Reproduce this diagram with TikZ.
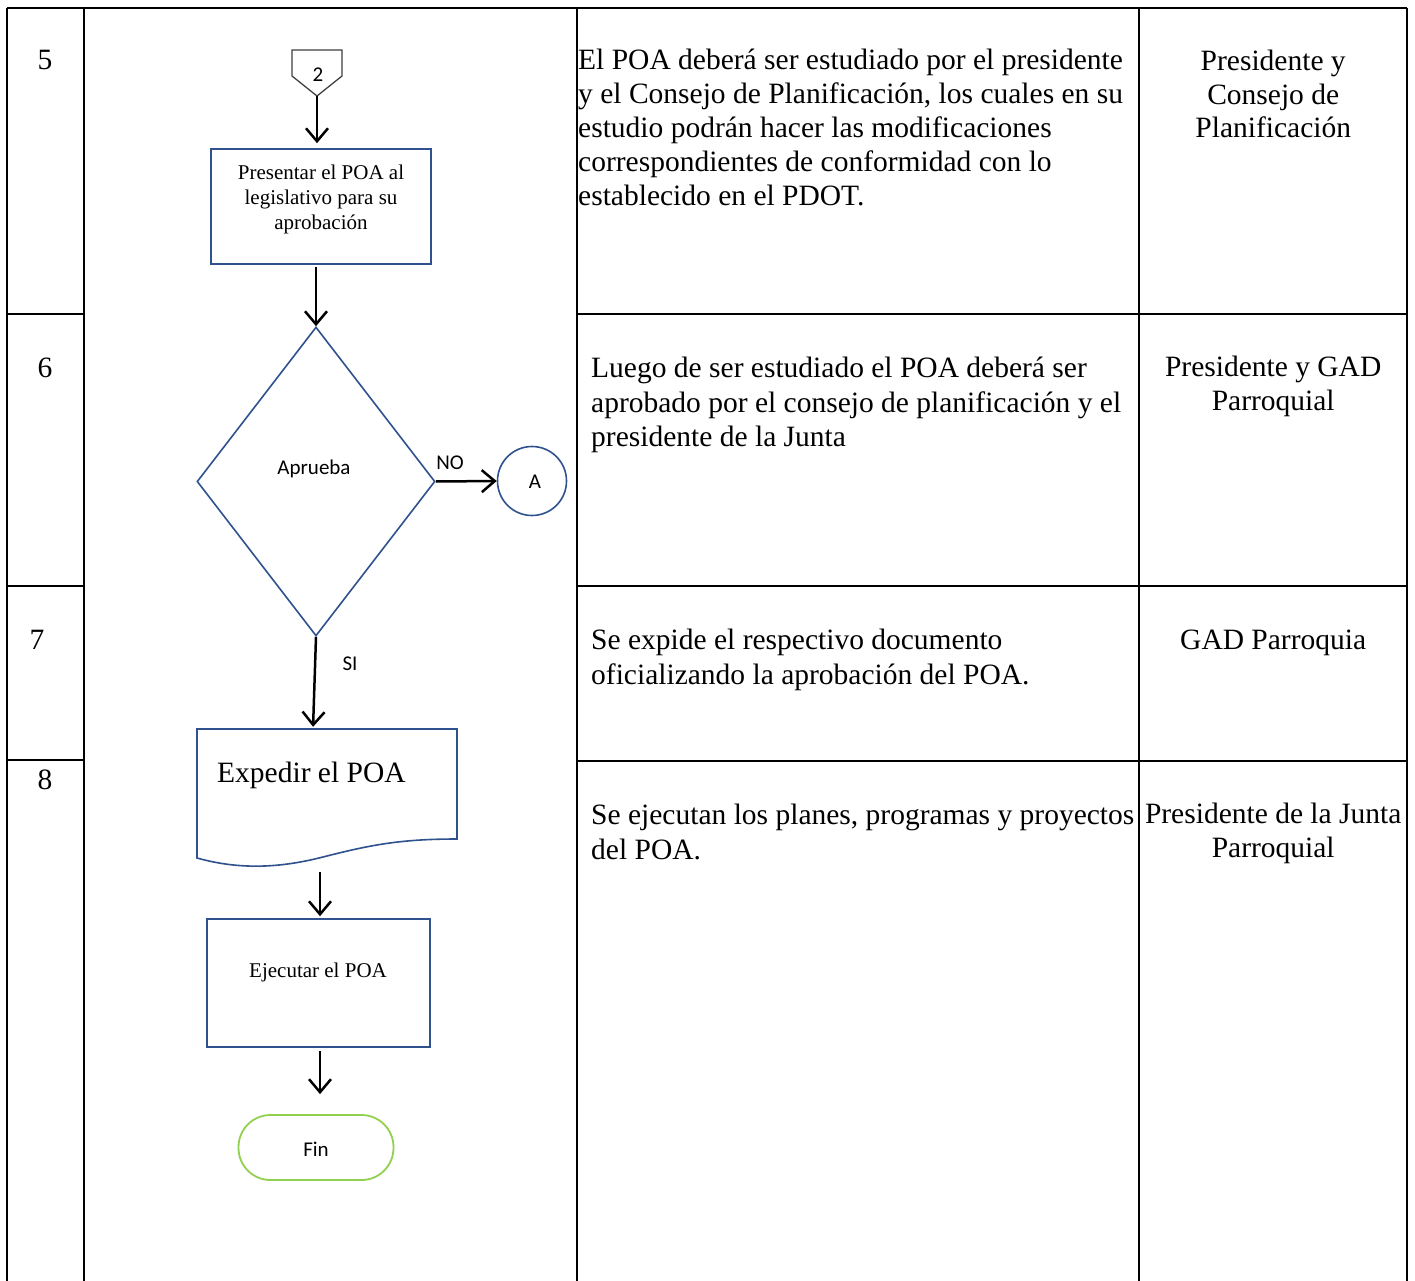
\documentclass[tikz,border=0pt]{standalone}
\usepackage{fontspec}
\setmainfont{Liberation Serif}
\newfontfamily\calfont{Carlito}
\usetikzlibrary{arrows.meta,shapes.geometric,calc}
\definecolor{shapeblue}{RGB}{47,82,143}
\definecolor{fingreen}{RGB}{146,208,80}

\begin{document}
\begin{tikzpicture}[x=1pt,y=-1pt,
  rule/.style={line width=2.7pt},
  arr/.style={line width=2.5pt,-{Straight Barb[length=13pt,width=22pt,line width=2.5pt]}},
  bluebox/.style={draw=shapeblue,line width=1.6pt,inner sep=0},
  body/.style={font=\fontsize{29.5}{34}\selectfont,inner sep=0,anchor=base west},
  boxtext/.style={font=\fontsize{21}{25}\selectfont,inner sep=0,align=center},
  sans/.style={font=\calfont\fontsize{21}{25}\selectfont,inner sep=0}
]
\useasboundingbox (0,0) rectangle (1415,1281);
\fill[white] (0,0) rectangle (1415,1281);

% table grid
\draw[rule] (7,8) -- (1407,8);
\foreach \xx in {7,84,577,1139,1407}
  \draw[rule] (\xx,8) -- (\xx,1300);
\foreach \yy in {314,586} {
  \draw[rule] (7,\yy) -- (84,\yy);
  \draw[rule] (577,\yy) -- (1407,\yy);
}
\draw[rule] (7,760) -- (84,760);
\draw[rule] (577,761) -- (1407,761);

% step numbers
\node[body,anchor=base] (n5) at (45,70) {5};
\node[body,anchor=base] (n6) at (45,377) {6};
\node[body,anchor=base] (n7) at (37,649) {7};
\node[body,anchor=base] (n8) at (45,789) {8};

% descriptions
\node[body] (d5) at (578,69.5) {\parbox[t]{560pt}{\raggedright
  El POA deberá ser estudiado por el presidente\\
  y el Consejo de Planificación, los cuales en su\\
  estudio podrán hacer las modificaciones\\
  correspondientes de conformidad con lo\\
  establecido en el PDOT.}};
\node[body] (d6) at (591,377.5) {\parbox[t]{545pt}{\raggedright\baselineskip=34.5pt
  Luego de ser estudiado el POA deberá ser\\
  aprobado por el consejo de planificación y el\\
  presidente de la Junta}};
\node[body] (d7) at (591,649) {\parbox[t]{545pt}{\raggedright\baselineskip=35pt
  Se expide el respectivo documento\\
  oficializando la aprobación del POA.}};
\node[body] (d8) at (591,824) {\parbox[t]{545pt}{\raggedright\baselineskip=35pt
  Se ejecutan los planes, programas y proyectos\\
  del POA.}};

% responsible parties
\node[body] (r5) at (1139,71) {\parbox[t]{268pt}{\centering\baselineskip=33.5pt
  Presidente y\\ Consejo de\\ Planificación}};
\node[body] (r6) at (1139,376) {\parbox[t]{268pt}{\centering\baselineskip=34pt
  Presidente y GAD\\ Parroquial}};
\node[body] (r7) at (1139,649) {\parbox[t]{268pt}{\centering GAD Parroquia}};
\node[body] (r8) at (1139,823) {\parbox[t]{268pt}{\centering\baselineskip=34pt
  Presidente de la Junta\\ Parroquial}};

% off-page connector
\draw[line width=1.3pt,draw=black!75] (292,50) -- (342,50) -- (342,76) -- (317,96) -- (292,76) -- cycle;
\node[sans] (off) at (318,75) {2};
\coordinate (offtip) at (317,96);

% process: present the plan
\node[bluebox,minimum width=220pt,minimum height=115pt] (pres) at (321,206.5) {};
\node[boxtext] (prestext) at (321,199) {Presentar el POA al\\ legislativo para su\\ aprobación};

% decision
\node[draw=shapeblue,line width=1.6pt,diamond,inner sep=0,
      minimum width=238pt,minimum height=309pt] (dia) at (316,481.5) {};
\node[sans] (diatext) at (314,469) {Aprueba};

% connector A
\node[draw=shapeblue,line width=1.6pt,circle,minimum size=69pt,inner sep=0] (conA) at (532,481) {};
\node[sans] (conAtext) at (535,482) {A};

% document
\node[minimum width=260pt,minimum height=132pt,inner sep=0] (doc) at (327,795) {};
\draw[draw=shapeblue,line width=1.6pt] (197,729) -- (457,729) -- (457,839)
  .. controls (400,839) and (370,845) .. (323,857)
  .. controls (280,868) and (240,870) .. (197,858) -- cycle;
\node[body] (doctext) at (217,782) {Expedir el POA};

% process: execute
\node[bluebox,minimum width=223pt,minimum height=128pt] (ejec) at (318.5,983) {};
\node[boxtext] (ejectext) at (318,972) {Ejecutar el POA};

% terminator
\node[draw=fingreen,line width=1.8pt,minimum width=155pt,minimum height=65pt,
      rounded corners=32pt,inner sep=0] (fin) at (316,1147.5) {};
\node[sans] (fintext) at (316,1149) {Fin};

% connectors
\draw[arr,shorten >=5pt] (offtip) -- (offtip |- pres.north);
\draw[arr,shorten <=2pt] (pres.south -| dia.north) -- (dia.north);
\draw[arr] (dia.east) -- (conA.west);
\node[sans] (nolabel) at (450,463) {NO};
\draw[arr,shorten >=2pt] (dia.south) -- ([xshift=-14pt]doc.north);
\node[sans] (silabel) at (350,664) {SI};
\draw[arr,shorten <=11pt,shorten >=2pt] (doc.south -| 320,0) -- (ejec.north -| 320,0);
\draw[arr,shorten <=3pt,shorten >=20pt] (ejec.south -| 320,0) -- (fin.north -| 320,0);
\end{tikzpicture}
\end{document}
